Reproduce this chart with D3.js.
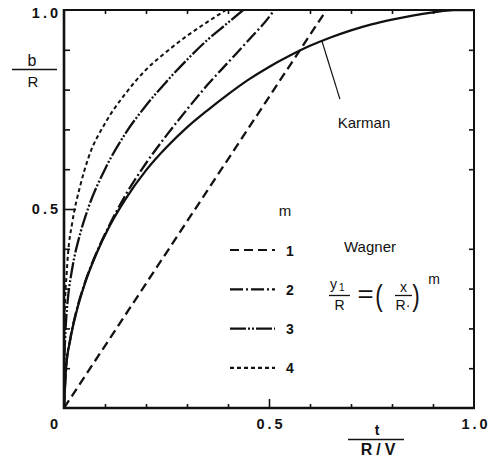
<!DOCTYPE html>
<html><head><meta charset="utf-8">
<script src="https://cdn.jsdelivr.net/npm/d3@7"></script>
<style>
html,body{margin:0;padding:0;background:#fff;}
svg{display:block;}
text{font-family:"Liberation Sans",Arial,Helvetica,sans-serif;fill:#111;}
</style></head><body>
<svg id="chart" width="500" height="459"></svg>
<script>
// Wetted half-width b/R against non-dimensional time t/(R/V)

// Karman (circular section)
const karmanT = [0, 0.005, 0.015, 0.03, 0.05, 0.08, 0.11, 0.15, 0.2, 0.25, 0.3, 0.35, 0.4, 0.45, 0.5, 0.55, 0.6, 0.65, 0.7, 0.75, 0.8, 0.85, 0.9, 0.95, 1.0];
const karmanB = [0, 0.1, 0.17, 0.24, 0.31, 0.39, 0.455, 0.525, 0.597, 0.655, 0.705, 0.748, 0.788, 0.825, 0.857, 0.885, 0.91, 0.931, 0.949, 0.964, 0.976, 0.986, 0.994, 1.0, 1.0];

// Wagner, body y1/R = (x/R)^m
const m1T = [0, 0.64];
const m1B = [0, 1.0];
const m2T = [0, 0.005, 0.015, 0.03, 0.05, 0.08, 0.11, 0.15, 0.2, 0.25, 0.3, 0.35, 0.4, 0.45, 0.5, 0.513];
const m2B = [0, 0.1, 0.172, 0.243, 0.312, 0.392, 0.458, 0.535, 0.615, 0.685, 0.75, 0.812, 0.868, 0.924, 0.982, 1.0];
const m3T = [0, 0.001, 0.003, 0.006, 0.01, 0.02, 0.04, 0.06, 0.1, 0.15, 0.2, 0.25, 0.3, 0.35, 0.4, 0.437];
const m3B = [0, 0.12, 0.18, 0.235, 0.28, 0.35, 0.44, 0.505, 0.6, 0.69, 0.76, 0.82, 0.875, 0.925, 0.968, 1.0];
const m4T = [0, 0.0005, 0.001, 0.003, 0.006, 0.01, 0.02, 0.04, 0.06, 0.1, 0.15, 0.2, 0.25, 0.3, 0.35, 0.395];
const m4B = [0, 0.17, 0.2, 0.28, 0.33, 0.39, 0.465, 0.56, 0.63, 0.715, 0.79, 0.85, 0.895, 0.935, 0.97, 1.0];

const legendM = ["1", "2", "3", "4"];
const minorTicks = [0.1, 0.2, 0.3, 0.4, 0.6, 0.7, 0.8, 0.9];
const majorTicks = [0.5];
const xTickLabels = [0.5, 1.0];
const yTickLabels = [0.5, 1.0];
const karmanPointer = [[0.673, 0.776], [0.629, 0.922]];

const dashes = {"1": "9,5", "2": "13,3,2,3", "3": "16,2,2,2,2,2", "4": "4,3"};

const svg = d3.select("#chart");
const x = d3.scaleLinear([0, 1], [64, 474]);
const y = d3.scaleLinear([0, 1], [408, 10]);

const zip = (ts, bs) => ts.map((t, i) => [t, bs[i]]);
const series = [
  {key: "K", pts: zip(karmanT, karmanB), dash: null},
  {key: "1", pts: zip(m1T, m1B), dash: dashes["1"]},
  {key: "2", pts: zip(m2T, m2B), dash: dashes["2"]},
  {key: "3", pts: zip(m3T, m3B), dash: dashes["3"]},
  {key: "4", pts: zip(m4T, m4B), dash: dashes["4"]}
];

svg.append("clipPath").attr("id", "plot").append("rect")
  .attr("x", x(0)).attr("y", y(1)).attr("width", x(1) - x(0)).attr("height", y(0) - y(1));

const line = d3.line().x(d => x(d[0])).y(d => y(d[1])).curve(d3.curveMonotoneX);

svg.append("g").attr("clip-path", "url(#plot)")
  .selectAll("path").data(series).join("path")
  .attr("d", d => line(d.pts))
  .attr("fill", "none").attr("stroke", "#111")
  .attr("stroke-width", d => d.key === "4" ? 2 : 2.3)
  .attr("stroke-dasharray", d => d.dash);

// Inward ticks on all four sides
function ticks(axis, tr, scale, vals, size) {
  const g = svg.append("g").attr("transform", tr)
    .call(axis(scale).tickValues(vals).tickSize(-size).tickSizeOuter(0).tickFormat(""));
  g.select(".domain").remove();
  g.selectAll("line").attr("stroke", "#111").attr("stroke-width", 1.6);
}
ticks(d3.axisLeft, `translate(${x(0)},0)`, y, minorTicks, 6);
ticks(d3.axisLeft, `translate(${x(0)},0)`, y, majorTicks, 12);
ticks(d3.axisRight, `translate(${x(1)},0)`, y, minorTicks, 5);
ticks(d3.axisBottom, `translate(0,${y(0)})`, x, minorTicks, 4);
ticks(d3.axisBottom, `translate(0,${y(0)})`, x, majorTicks, 9);
ticks(d3.axisTop, `translate(0,${y(1)})`, x, minorTicks, 4);

// Frame
svg.append("path")
  .attr("d", `M${x(0)},${y(1)}H${x(1)}V${y(0)}H${x(0)}Z`)
  .attr("fill", "none").attr("stroke", "#111").attr("stroke-width", 2);
svg.append("path")
  .attr("d", `M${x(0)},${y(1) - 1}V${y(0)}H${x(1) + 1}`)
  .attr("fill", "none").attr("stroke", "#111").attr("stroke-width", 2.6);

// Tick labels
const fmt = d => d3.format(".1f")(d);
svg.append("g").selectAll("text").data(yTickLabels).join("text")
  .attr("x", x(0) - 3).attr("y", d => y(d) + 5 + (d === 1 ? 3 : 0))
  .attr("text-anchor", "end").attr("font-size", 14.5).attr("font-weight", "bold")
  .attr("letter-spacing", 3).text(fmt);
svg.append("g").selectAll("text").data(xTickLabels).join("text")
  .attr("x", d => x(d) + 2).attr("y", y(0) + 21)
  .attr("text-anchor", "middle").attr("font-size", 14.5).attr("font-weight", "bold")
  .attr("letter-spacing", 3).text(fmt);
svg.append("text").attr("x", 54).attr("y", 429).attr("text-anchor", "middle")
  .attr("font-size", 14.5).attr("font-weight", "bold").text("0");

// Axis titles as fractions
svg.append("text").attr("x", 32).attr("y", 66).attr("text-anchor", "middle").attr("font-size", 16).text("b");
svg.append("line").attr("x1", 12).attr("x2", 57).attr("y1", 69.5).attr("y2", 69.5).attr("stroke", "#111").attr("stroke-width", 1.6);
svg.append("text").attr("x", 33).attr("y", 87).attr("text-anchor", "middle").attr("font-size", 15).text("R");

svg.append("text").attr("x", 377).attr("y", 435).attr("text-anchor", "middle").attr("font-size", 14).attr("font-weight", "bold").text("t");
svg.append("line").attr("x1", 348).attr("x2", 404).attr("y1", 439.5).attr("y2", 439.5).attr("stroke", "#111").attr("stroke-width", 1.6);
svg.append("text").attr("x", 380).attr("y", 455).attr("text-anchor", "middle").attr("font-size", 16).attr("font-weight", "bold").attr("letter-spacing", 4).text("R/V");

// Legend
svg.append("text").attr("x", 285).attr("y", 216).attr("text-anchor", "middle").attr("font-size", 15).text("m");
const leg = svg.append("g").selectAll("g").data(legendM).join("g")
  .attr("transform", (d, i) => `translate(0,${250 + i * 39.3})`);
leg.append("line").attr("x1", 230).attr("x2", 275).attr("y1", 0).attr("y2", 0)
  .attr("stroke", "#111").attr("stroke-width", 2.2).attr("stroke-dasharray", d => dashes[d]);
leg.append("text").attr("x", 290).attr("y", 5.5).attr("text-anchor", "middle")
  .attr("font-size", 14).attr("font-weight", "bold").text(d => d);

// Wagner label and body formula
svg.append("text").attr("x", 370).attr("y", 252).attr("text-anchor", "middle").attr("font-size", 15).text("Wagner");
const f = svg.append("g");
f.append("text").attr("x", 330).attr("y", 289).attr("font-size", 14).text("y");
f.append("text").attr("x", 339).attr("y", 291).attr("font-size", 10).text("1");
f.append("line").attr("x1", 329).attr("x2", 350).attr("y1", 295.5).attr("y2", 295.5).attr("stroke", "#111").attr("stroke-width", 1.3);
f.append("text").attr("x", 339.5).attr("y", 310).attr("text-anchor", "middle").attr("font-size", 14).text("R");
f.append("text").attr("x", 365.5).attr("y", 302.5).attr("text-anchor", "middle").attr("font-size", 24)
  .attr("transform", "translate(365.5,0) scale(1.15,1) translate(-365.5,0)").text("=");
f.append("text").attr("x", 379).attr("y", 306).attr("text-anchor", "middle").attr("font-size", 30)
  .attr("transform", "translate(379,0) scale(0.75,1) translate(-379,0)").text("(");
f.append("text").attr("x", 403.5).attr("y", 292).attr("text-anchor", "middle").attr("font-size", 14).text("x");
f.append("line").attr("x1", 395).attr("x2", 412).attr("y1", 295.5).attr("y2", 295.5).attr("stroke", "#111").attr("stroke-width", 1.3);
f.append("text").attr("x", 403).attr("y", 310).attr("text-anchor", "middle").attr("font-size", 14).text("R·");
f.append("text").attr("x", 416).attr("y", 306).attr("text-anchor", "middle").attr("font-size", 30)
  .attr("transform", "translate(416,0) scale(0.75,1) translate(-416,0)").text(")");
f.append("text").attr("x", 434).attr("y", 284).attr("text-anchor", "middle").attr("font-size", 14).text("m");

// Karman label with pointer to its curve
svg.append("text").attr("x", 364).attr("y", 128).attr("text-anchor", "middle").attr("font-size", 15).text("Karman");
svg.append("line")
  .attr("x1", x(karmanPointer[0][0])).attr("y1", y(karmanPointer[0][1]))
  .attr("x2", x(karmanPointer[1][0])).attr("y2", y(karmanPointer[1][1]))
  .attr("stroke", "#111").attr("stroke-width", 1.2);
</script>
</body></html>
